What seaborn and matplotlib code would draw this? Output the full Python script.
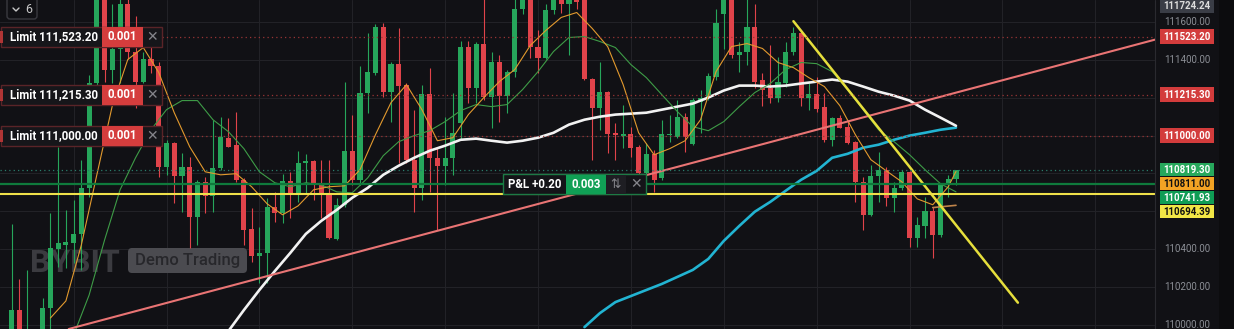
import matplotlib
matplotlib.use("Agg")
import matplotlib.pyplot as plt
from matplotlib.patches import Rectangle, FancyBboxPatch
from matplotlib.transforms import Affine2D
import numpy as np
import pandas as pd
import seaborn as sns

# ---------------- candle data (BTCUSDT, one candle per step) ----------------
opens = [109920, 110079, 109920, 109946, 109920, 110090, 110402, 110423, 110434, 110481,
         110724, 111280, 111772, 111349, 111455, 111693, 111439, 111285, 111407, 111365,
         110836, 110963, 110788, 110836, 110571, 110756, 110682, 110830, 110989, 110952,
         110767, 110508, 110365, 110381, 110624, 110592, 110762, 110687, 110857, 110867,
         110751, 110698, 110455, 110635, 110920, 110767, 111227, 111333, 111571, 111232,
         111380, 111269, 110873, 110724, 111222, 110883, 110841, 110883, 111068, 111470,
         111253, 111486, 111206, 111391, 111211, 111338, 111666, 111745, 111470, 111412,
         111661, 111730, 111693, 111735, 111745, 111301, 111148, 111232, 111015, 111000,
         111010, 110941, 110804, 110904, 110777, 111005, 110994, 111100, 110957, 111179,
         111201, 111312, 111640, 111735, 111428, 111444, 111571, 111296, 111253, 111201,
         111280, 111439, 111544, 111201, 111222, 111153, 110978, 111095, 111047, 110968,
         110756, 110582, 110788, 110820, 110672, 110724, 110809, 110460, 110523, 110603,
         110476, 110740, 110772]
highs = [110534, 110243, 110291, 109962, 110143, 110592, 110941, 110608, 110661, 110873,
         111322, 111825, 111825, 111693, 111745, 111745, 111629, 111439, 111470, 111391,
         110978, 110968, 110910, 110889, 110767, 110783, 111084, 111100, 111095, 111127,
         110777, 110619, 110518, 110672, 110703, 110799, 110809, 110920, 110904, 110873,
         110873, 110873, 110672, 111285, 111111, 111365, 111544, 111587, 111592, 111391,
         111566, 111280, 111137, 111269, 111359, 110941, 111100, 111227, 111497, 111497,
         111492, 111825, 111444, 111428, 111349, 111719, 111798, 111798, 111560, 111693,
         111772, 111782, 111782, 111782, 111798, 111306, 111391, 111238, 111068, 111164,
         111047, 110952, 110962, 110925, 111084, 111111, 111190, 111121, 111201, 111243,
         111333, 111666, 111772, 111772, 111492, 111719, 111693, 111333, 111481, 111417,
         111492, 111571, 111555, 111280, 111312, 111227, 111100, 111111, 111084, 110973,
         110783, 110846, 110915, 110836, 110756, 110820, 110815, 110571, 110677, 110624,
         110751, 110793, 110820]
lows = [109868, 109894, 109868, 109878, 109868, 109979, 110307, 110301, 110328, 110291,
        110677, 111243, 111285, 111280, 111280, 111402, 111148, 111280, 111333, 110783,
        110793, 110645, 110598, 110407, 110423, 110592, 110598, 110820, 110941, 110756,
        110423, 110333, 110222, 110222, 110545, 110539, 110566, 110650, 110698, 110661,
        110566, 110455, 110449, 110624, 110740, 110740, 111121, 111322, 111206, 111074,
        110857, 110857, 110598, 110661, 110703, 110502, 110740, 110793, 110978, 111174,
        111174, 111190, 111042, 111074, 111121, 111312, 111640, 111412, 111333, 111402,
        111640, 111650, 111428, 111666, 111296, 110873, 111031, 110910, 110873, 110936,
        110888, 110793, 110751, 110703, 110767, 110968, 110989, 110915, 110952, 111015,
        111190, 111296, 111455, 111412, 111338, 111375, 111253, 111158, 111174, 111179,
        111259, 111428, 111158, 111137, 111127, 110968, 110947, 111042, 110957, 110650,
        110502, 110576, 110651, 110629, 110598, 110714, 110412, 110412, 110460, 110354,
        110465, 110677, 110740]
closes = [110079, 109931, 109946, 109920, 110090, 110407, 110434, 110439, 110481, 110724,
          111280, 111772, 111349, 111455, 111693, 111439, 111285, 111407, 111365, 110836,
          110963, 110788, 110836, 110571, 110756, 110682, 110830, 110994, 110941, 110767,
          110502, 110365, 110381, 110624, 110592, 110762, 110687, 110857, 110867, 110740,
          110698, 110460, 110635, 110920, 110767, 111227, 111338, 111571, 111232, 111380,
          111264, 110873, 110724, 111222, 110883, 110841, 110883, 111015, 111470, 111253,
          111486, 111206, 111391, 111211, 111338, 111671, 111745, 111470, 111412, 111661,
          111730, 111693, 111735, 111703, 111301, 111148, 111232, 111010, 111005, 111010,
          110936, 110804, 110904, 110767, 111010, 111010, 111100, 110994, 111190, 111201,
          111317, 111597, 111735, 111428, 111444, 111571, 111285, 111243, 111201, 111285,
          111439, 111544, 111201, 111222, 111142, 110978, 111095, 111042, 110963, 110756,
          110582, 110788, 110820, 110672, 110724, 110809, 110460, 110529, 110603, 110476,
          110740, 110772, 110819.30]

# ---------------- moving averages (candle index -> value) ----------------
ma_fast_idx = list(range(5, 122, 2)) + [122]
ma_fast = [110037, 110127, 110423, 110793, 111158, 111402, 111465, 111333, 111121, 110941,
           110809, 110793, 110799, 110730, 110640, 110582, 110629, 110714, 110730, 110735,
           110820, 111005, 111174, 111269, 111137, 110973, 110989, 111111, 111201, 111285,
           111349, 111476, 111555, 111624, 111650, 111566, 111470, 111269, 111015, 110899,
           110931, 110973, 111084, 111338, 111470, 111486, 111460, 111386, 111359, 111306,
           111259, 111158, 111005, 110873, 110814, 110756, 110666, 110635, 110730, 110811.00]

ma_mid_idx = list(range(8, 123, 2))
ma_mid = [109947, 110158, 110449, 110714, 110883, 111031, 111137, 111185, 111185, 111084,
          111021, 110931, 110809, 110751, 110730, 110751, 110740, 110703, 110698, 110777,
          110894, 110968, 111000, 111026, 111074, 111132, 111164, 111153, 111164, 111243,
          111338, 111444, 111518, 111523, 111497, 111465, 111375, 111306, 111216, 111127,
          111047, 111026, 111074, 111153, 111227, 111275, 111349, 111386, 111380, 111338,
          111243, 111137, 111031, 110968, 110899, 110820, 110746, 110703]

ma_slow_idx = list(range(28, 123, 2))
ma_slow = [109968, 110079, 110185, 110285, 110381, 110481, 110550, 110608, 110672, 110724,
           110793, 110841, 110883, 110920, 110947, 110978, 110984, 110973, 110963, 110973,
           110989, 111015, 111058, 111084, 111100, 111111, 111116, 111121, 111137, 111153,
           111169, 111201, 111238, 111264, 111264, 111259, 111264, 111275, 111285, 111296,
           111285, 111259, 111232, 111211, 111185, 111137, 111095, 111052]

ma_long_idx = list(range(74, 123, 2))
ma_long = [109989, 110063, 110121, 110153, 110185, 110217, 110254, 110291, 110349, 110444,
           110523, 110598, 110650, 110709, 110767, 110814, 110883, 110904, 110936, 110952,
           110978, 111000, 111015, 111031, 111042]

ma_extra_idx = [119, 122]
ma_extra = [110620, 110632]

# ---------------- drawn lines and orders ----------------
trend_up = ([7, 147], [109975, 111499])       # rising support line
trend_down = ([101, 130], [111604, 110118])   # falling resistance line
limit_prices = [111523.20, 111215.30, 111000.00]
limit_qty = "0.001"
position_price = 110741.93
position_pnl = "P&L +0.20"
position_qty = "0.003"
alert_price = 110694.39
last_price = 110819.30
session_high = 111724.24
axis_ticks = [110000, 110200, 110400, 110600, 110800, 111000, 111200, 111400, 111600]

# ---------------- style ----------------
BG = "#111115"
GRID = "#222227"
UP = "#26a65b"
DOWN = "#e0434a"

sns.set_style("dark", {"axes.facecolor": BG, "figure.facecolor": BG})
plt.rcParams["font.family"] = ["Roboto", "DejaVu Sans"]

W, H = 1234, 329
PLOT_W = 1155
Y_TOP, Y_BOT = 111716, 109979
PX = (Y_TOP - Y_BOT) / H          # price units per pixel
X0_PX, STEP_PX = 11.7, 7.74        # first candle position and candle spacing


def ypx(price):
    return (Y_TOP - price) / PX


fig = plt.figure(figsize=(W / 100, H / 100), dpi=100)
fig.patch.set_facecolor(BG)
ax = fig.add_axes([0, 0, PLOT_W / W, 1])
ax.set_facecolor(BG)
PIX = Affine2D().scale(1, -1).translate(0, H)   # pixel coords, origin top-left

# grid
for p in axis_ticks:
    ax.axhline(p, color=GRID, lw=0.8, zorder=0.5)
for i in range(8, 150, 12):
    ax.axvline(i, color=GRID, lw=0.8, zorder=0.5)

# watermark
ax.text(30, 263, "BYBIT", transform=PIX, color="#3b3b40", fontsize=23,
        fontweight="bold", va="center", ha="left", zorder=1)
ax.add_patch(FancyBboxPatch((128, 248), 119, 25, boxstyle="round,pad=0,rounding_size=4",
                            transform=PIX, facecolor="#4b4b50", edgecolor="none", zorder=1))
ax.text(187.5, 261, "Demo Trading", transform=PIX, color="#27272b", fontsize=12,
        fontweight="medium", va="center", ha="center", zorder=1.1)

# candles
df = pd.DataFrame({"open": opens, "high": highs, "low": lows, "close": closes})
df["idx"] = np.arange(len(df))
cols = np.where(df["close"] >= df["open"], UP, DOWN)
ax.vlines(df["idx"], df["low"], df["high"], colors=cols, lw=0.8, zorder=3)
ax.bar(df["idx"], (df["close"] - df["open"]).abs().clip(lower=4),
       bottom=np.minimum(df["open"], df["close"]), width=0.66, color=cols,
       linewidth=0, zorder=4)

# moving averages
sns.lineplot(x=ma_long_idx, y=ma_long, ax=ax, color="#22b4d2", lw=1.9, zorder=5)
sns.lineplot(x=ma_slow_idx, y=ma_slow, ax=ax, color="#f2f2f2", lw=1.9, zorder=5)
sns.lineplot(x=ma_mid_idx, y=ma_mid, ax=ax, color="#3e9c47", lw=0.8, zorder=5)
sns.lineplot(x=ma_fast_idx, y=ma_fast, ax=ax, color="#e39a2e", lw=0.8, zorder=5)
sns.lineplot(x=ma_extra_idx, y=ma_extra, ax=ax, color="#c0844a", lw=1.2, zorder=5)

# trend lines
ax.axline((trend_up[0][0], trend_up[1][0]), (trend_up[0][1], trend_up[1][1]),
          color="#e97474", lw=1.5, zorder=6)
ax.plot(trend_down[0], trend_down[1], color="#e6df3c", lw=1.8, zorder=6,
        solid_capstyle="round")

# price lines
ax.axhline(position_price, color="#0f7a3c", lw=1.6, zorder=6)
ax.axhline(alert_price, color="#efe04a", lw=1.5, zorder=6)
ax.axhline(last_price, color="#2a7d6c", lw=0.9, ls=(0, (1, 2.5)), zorder=6)
for p in limit_prices:
    ax.plot([162, PLOT_W], [ypx(p), ypx(p)], transform=PIX, color="#9a3535",
            lw=0.9, ls=(0, (1, 2.5)), zorder=6)

ax.set_xlim(-X0_PX / STEP_PX, (PLOT_W - X0_PX) / STEP_PX)
ax.set_ylim(Y_BOT, Y_TOP)
ax.set_xticks([])
ax.set_yticks([])
ax.set_xlabel("")
ax.set_ylabel("")
for s in ax.spines.values():
    s.set_visible(False)


def rect(x0, y0, w, h, fc, ec="none", lw=0, z=10):
    ax.add_patch(Rectangle((x0, y0), w, h, transform=PIX, facecolor=fc, edgecolor=ec,
                           lw=lw, zorder=z, clip_on=False))


def label(x, y, s, color="white", size=8.3, weight="bold", ha="center", z=11):
    ax.text(x, y, s, transform=PIX, color=color, fontsize=size, fontweight=weight,
            ha=ha, va="center", zorder=z, clip_on=False)


# limit order tags
for p in limit_prices:
    yc = ypx(p)
    rect(0.5, yc - 10, 161.5, 20, "#16161a", ec="#5a2428", lw=1)
    rect(0, yc - 6, 2.5, 12, "#b03535", z=10.5)
    rect(102, yc - 10, 41, 20, "#d53d3d", z=10.5)
    label(10, yc, f"Limit {p:,.2f}", ha="left")
    label(122.5, yc, limit_qty)
    label(152.5, yc, "✕", color="#85858b", size=10, weight="normal")

# position tag
yc = ypx(position_price)
rect(503, yc - 10, 143, 20, "#141418", ec="#1d7a45", lw=1)
rect(566, yc - 9.5, 40, 19, "#10a055", z=10.5)
rect(606, yc - 9.5, 20, 19, "#1e1e23", z=10.5)
label(534.5, yc, position_pnl)
label(586, yc, position_qty)
label(616, yc, "⇅", color="#85858b", size=9, weight="normal")
label(636, yc, "✕", color="#85858b", size=10, weight="normal")

# interval selector
ax.add_patch(FancyBboxPatch((7, -4), 30, 23, boxstyle="round,pad=0,rounding_size=3",
                            transform=PIX, facecolor=BG, edgecolor="#3a3a40", lw=1,
                            zorder=10, clip_on=False))
ax.plot([13, 16, 19], [8, 11, 8], transform=PIX, color="#c8c8c8", lw=1, zorder=11)
label(29, 9.5, "6", color="#c8c8c8", size=9, weight="normal")

# price scale
rect(PLOT_W, 0, W - PLOT_W, H, BG, z=8)
rect(1219, 0, W - 1219, H, "#0c0c0e", z=8.5)
ax.plot([PLOT_W, PLOT_W], [0, H], transform=PIX, color="#2a2a2f", lw=0.8, zorder=9,
        clip_on=False)


def price_tag(yc, text, fc, tc, h=15):
    rect(1160, yc - h / 2, 54, h, fc, z=12)
    label(1187, yc, text, color=tc, size=7, weight="bold", z=13)


# tags: session high, limit orders, then the stacked last/MA/position/alert tags
tag_rows = [(max(ypx(session_high), 6.0), session_high, "#3a3d46", "#dcdcdc", 13)]
for p in limit_prices:
    tag_rows.append((ypx(p), p, "#d33c3c", "white", 15))
stack = [(last_price, "#27a85c", "white"),
         (ma_fast[-1], "#f3a324", "#111111"),
         (position_price, "#0f9d55", "white"),
         (alert_price, "#f2e646", "#111111")]
y0 = ypx(last_price)
for k, (p, fc, tc) in enumerate(stack):
    tag_rows.append((y0 + 14 * k, p, fc, tc, 13))
for yc, p, fc, tc, h in tag_rows:
    price_tag(yc, f"{p:.2f}", fc, tc, h=h)

# plain tick labels only where no tag covers them
for p in axis_ticks:
    yt = ypx(p)
    if all(abs(yt - r[0]) > 10 for r in tag_rows):
        label(1187, yt, f"{p:.2f}", color="#8c8f96", size=7, weight="normal")

fig.savefig("out.png", dpi=100, facecolor=BG)
